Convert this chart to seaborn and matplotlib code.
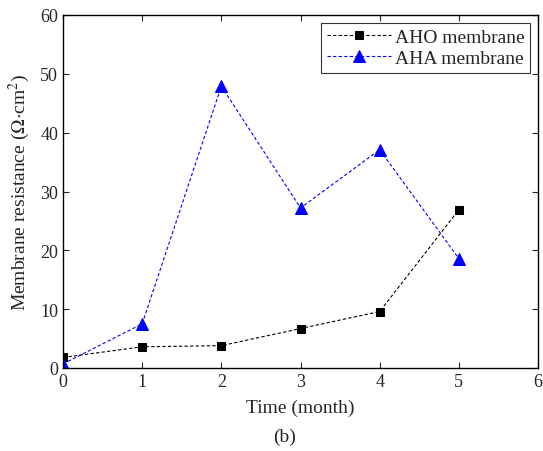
import pandas as pd
import matplotlib
matplotlib.use("Agg")
from matplotlib import pyplot as plt
import seaborn as sns

months = [0, 1, 2, 3, 4, 5]
aho = [1.8, 3.6, 3.8, 6.7, 9.6, 26.9]
aha = [0.7, 7.5, 47.9, 27.2, 37.1, 18.6]
x_ticks = [0, 1, 2, 3, 4, 5, 6]
y_ticks = [0, 10, 20, 30, 40, 50, 60]

df = pd.DataFrame({"month": months, "AHO membrane": aho, "AHA membrane": aha})

sns.set_style("ticks")
plt.rcParams["font.family"] = ["Liberation Serif", "DejaVu Serif"]
plt.rcParams["mathtext.fontset"] = "stix"

fig, ax = plt.subplots(figsize=(5.43, 4.52), dpi=100)
fig.subplots_adjust(left=63/543, right=538/543, top=1-16/452, bottom=1-369/452)

sns.lineplot(data=df, x="month", y="AHO membrane", ax=ax, color="black",
             linestyle=(0, (3, 2)), linewidth=0.8, marker="s", markersize=6,
             markeredgecolor="black", label="AHO membrane")
sns.lineplot(data=df, x="month", y="AHA membrane", ax=ax, color="#0000ff",
             linestyle=(0, (3, 2)), linewidth=0.8, marker="^", markersize=8,
             markeredgecolor="#0000ff", label="AHA membrane")

ax.set_xlim(0, 6)
ax.set_ylim(0, 60)
ax.set_xticks(x_ticks)
ax.set_yticks(y_ticks)
ax.tick_params(direction="in", top=True, right=True, labeltop=False,
               labelright=False, labelsize=13, length=4, width=0.8)
for s in ax.spines.values():
    s.set_linewidth(1.0)
    s.set_color("black")

ax.set_xlabel("Time (month)", fontsize=14)
ax.set_ylabel(r"Membrane resistance ($\Omega$$\cdot$cm$^2$)", fontsize=14)
ax.xaxis.labelpad = 6
ax.yaxis.labelpad = 6

leg = ax.legend(loc="upper right", fontsize=14, frameon=True, fancybox=False,
                edgecolor="black", borderaxespad=0.4, handlelength=3.3,
                borderpad=0.3, labelspacing=0.15, handletextpad=0.2)
leg.get_frame().set_linewidth(0.8)

fig.text(285/543, 1-437/452, "(b)", ha="center", va="center", fontsize=14)

fig.savefig("out.png", dpi=100)
